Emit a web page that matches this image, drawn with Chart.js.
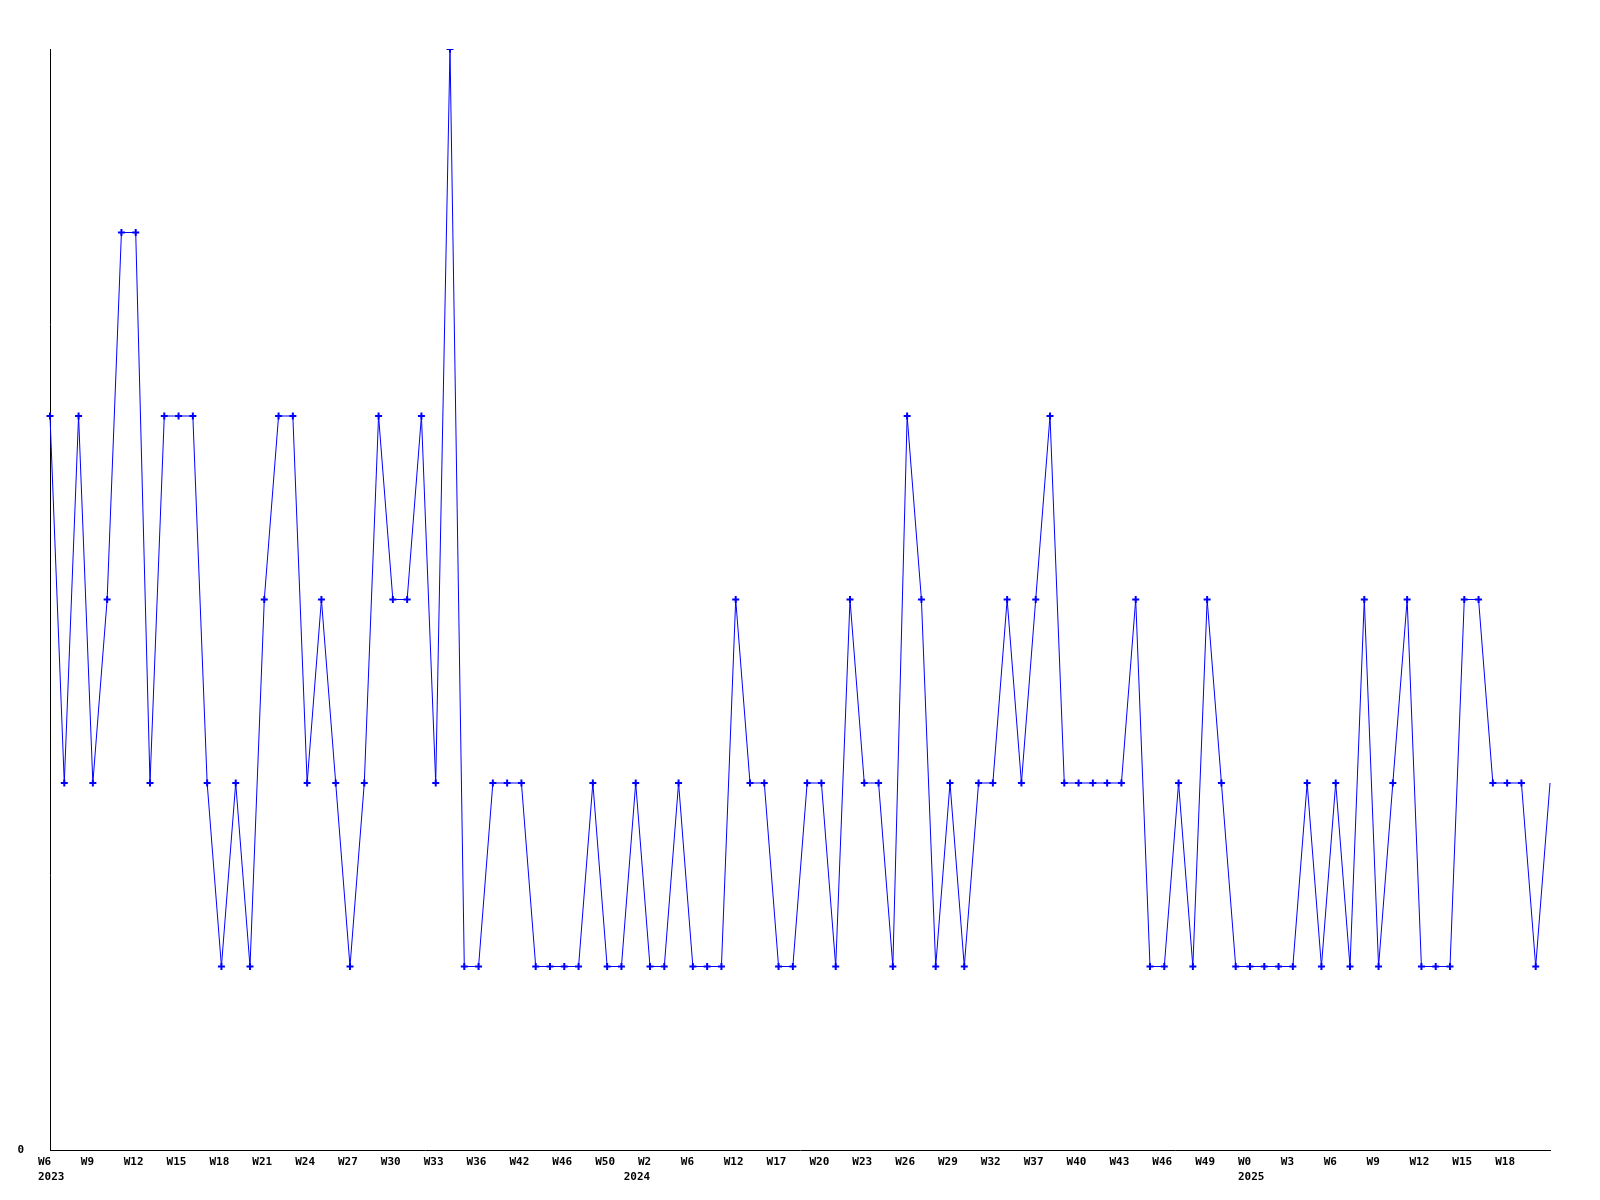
<!DOCTYPE html>
<html>
<head>
<meta charset="utf-8">
<script src="https://cdn.jsdelivr.net/npm/chart.js@4"></script>
<style>
  html, body { margin: 0; padding: 0; background: #fff; }
  #wrap { width: 1600px; height: 1200px; }
</style>
</head>
<body>
<div id="wrap"><canvas id="chart1" width="1600" height="1200"></canvas></div>
<script>
// week categories (only every third one gets a label on the axis)
const weeks = [
  'W6','W7','W8','W9','W10','W11','W12','W13','W14','W15','W16','W17','W18','W19','W20',
  'W21','W22','W23','W24','W25','W26','W27','W28','W29','W30','W31','W32','W33','W34','W35',
  'W36','W37','W39','W42','W43','W45','W46','W47','W48','W50','W51',
  'W1','W2','W3','W5','W6','W8','W10','W12','W14','W16','W17','W18','W19','W20','W21','W22',
  'W23','W24','W25','W26','W27','W28','W29','W30','W31','W32','W34','W35','W37','W38','W39',
  'W40','W41','W42','W43','W44','W45','W46','W47','W48','W49','W50','W51',
  'W0','W1','W2','W3','W4','W5','W6','W7','W8','W9','W10','W11','W12','W13','W14','W15',
  'W16','W17','W18','W19','W20','W21'
];
const years = [].concat(
  Array(41).fill('2023'),
  Array(43).fill('2024'),
  Array(22).fill('2025')
);
const counts = [
  4,2,4,2,3,5,5,2,4,4,4,2,1,2,1,3,4,4,2,3,2,1,2,4,3,3,4,2,6,1,
  1,2,2,2,1,1,1,1,2,1,1,2,1,1,2,1,1,1,3,2,2,1,1,2,2,1,3,2,2,1,
  4,3,1,2,1,2,2,3,2,3,4,2,2,2,2,2,3,1,1,2,1,3,2,1,1,1,1,1,2,1,
  2,1,3,1,2,3,1,1,1,3,3,2,2,2,1,2
];
const yTicks = [0];

const ctx = document.getElementById('chart1').getContext('2d');
const tickFont = { family: 'DejaVu Sans Mono', size: 11, weight: 'bold', lineHeight: 15 / 11 };

new Chart(ctx, {
  type: 'line',
  data: {
    labels: weeks,
    datasets: [{
      data: counts,
      borderColor: '#0000ff',
      borderWidth: 1,
      tension: 0,
      fill: false,
      pointStyle: 'cross',
      pointBorderColor: '#0000ff',
      pointBorderWidth: 2,
      pointRadius: c => (c.dataIndex === counts.length - 1 ? 0 : 3.5),
      pointHoverRadius: 3.5
    }]
  },
  options: {
    responsive: false,
    animation: false,
    layout: { padding: { top: 49, right: 50, left: 0, bottom: 0 } },
    plugins: {
      legend: { display: false },
      tooltip: { enabled: false }
    },
    scales: {
      x: {
        type: 'category',
        offset: false,
        grid: { display: false, drawTicks: false },
        border: { display: true, color: '#000', width: 1 },
        ticks: {
          autoSkip: false,
          maxRotation: 0,
          minRotation: 0,
          align: 'start',
          labelOffset: -12,
          padding: 5,
          color: '#000',
          font: tickFont,
          callback: function (val, i) {
            const last = i === weeks.length - 1;
            const wk = (i % 3 === 0 && !last) ? weeks[i] : '';
            const newYear = i === 0 || years[i - 1] !== years[i];
            if (newYear) return [wk, years[i]];
            return wk;
          }
        },
        afterFit: s => { s.height = 50; }
      },
      y: {
        min: 0,
        max: 6,
        grid: { display: false, drawTicks: false },
        border: { display: true, color: '#000', width: 1 },
        ticks: {
          stepSize: 1,
          padding: 26,
          color: '#000',
          font: tickFont,
          callback: v => (yTicks.includes(v) ? String(v) : '')
        },
        afterFit: s => { s.width = 50; }
      }
    }
  }
});
</script>
</body>
</html>
